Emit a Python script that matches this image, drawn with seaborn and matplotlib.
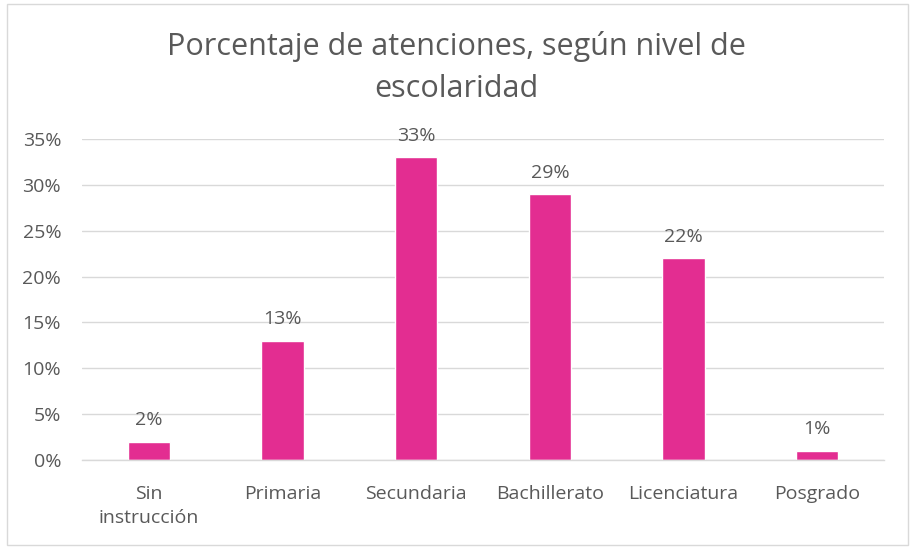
import matplotlib
matplotlib.use("Agg")
import matplotlib.pyplot as plt
import seaborn as sns
import pandas as pd
from matplotlib.patches import Rectangle
from matplotlib.ticker import FuncFormatter

categories = ["Sin\ninstrucción", "Primaria", "Secundaria", "Bachillerato", "Licenciatura", "Posgrado"]
values = [2, 13, 33, 29, 22, 1]
yticks = [0, 5, 10, 15, 20, 25, 30, 35]

sns.set_theme(style="white")
plt.rcParams['font.family'] = ['Open Sans', 'DejaVu Sans']

TXT = "#595959"
BAR = "#E32D91"

fig = plt.figure(figsize=(9.13, 5.47), dpi=100)
ax = fig.add_axes([82/913, 1-460/547, (884-82)/913, (460-139)/547])

df = pd.DataFrame({"cat": categories, "val": values})
sns.barplot(data=df, x="cat", y="val", color=BAR, width=0.315, ax=ax, saturation=1)

ax.set_ylim(0, 35)
ax.set_xlim(-0.5, len(categories)-0.5)
ax.set_yticks(yticks)
ax.yaxis.set_major_formatter(FuncFormatter(lambda v, p: f"{int(v)}%"))
ax.grid(axis="y", color="#D9D9D9", linewidth=1)
ax.set_axisbelow(True)
for s in ["top", "right", "left"]:
    ax.spines[s].set_visible(False)
ax.spines["bottom"].set_color("#D9D9D9")
ax.spines["bottom"].set_linewidth(1)
ax.set_xlabel("")
ax.set_ylabel("")
ax.tick_params(axis="both", length=0, labelsize=14, colors=TXT)
ax.tick_params(axis="x", pad=18)
ax.tick_params(axis="y", pad=15)
for lbl in ax.get_xticklabels():
    lbl.set_linespacing(1.45)

for c in ax.containers:
    ax.bar_label(c, labels=[f"{v}%" for v in values], padding=9, fontsize=14, color=TXT)

fig.text(0.5, 1-46/547, "Porcentaje de atenciones, según nivel de", ha="center", va="center",
         fontsize=22, color=TXT)
fig.text(0.5, 1-89/547, "escolaridad", ha="center", va="center", fontsize=22, color=TXT)

fig.patches.append(Rectangle((7/913, 1-545/547), 901/913, 541/547, transform=fig.transFigure,
                             fill=False, edgecolor="#D9D9D9", linewidth=1))

fig.savefig("out.png", dpi=100, facecolor="white")
